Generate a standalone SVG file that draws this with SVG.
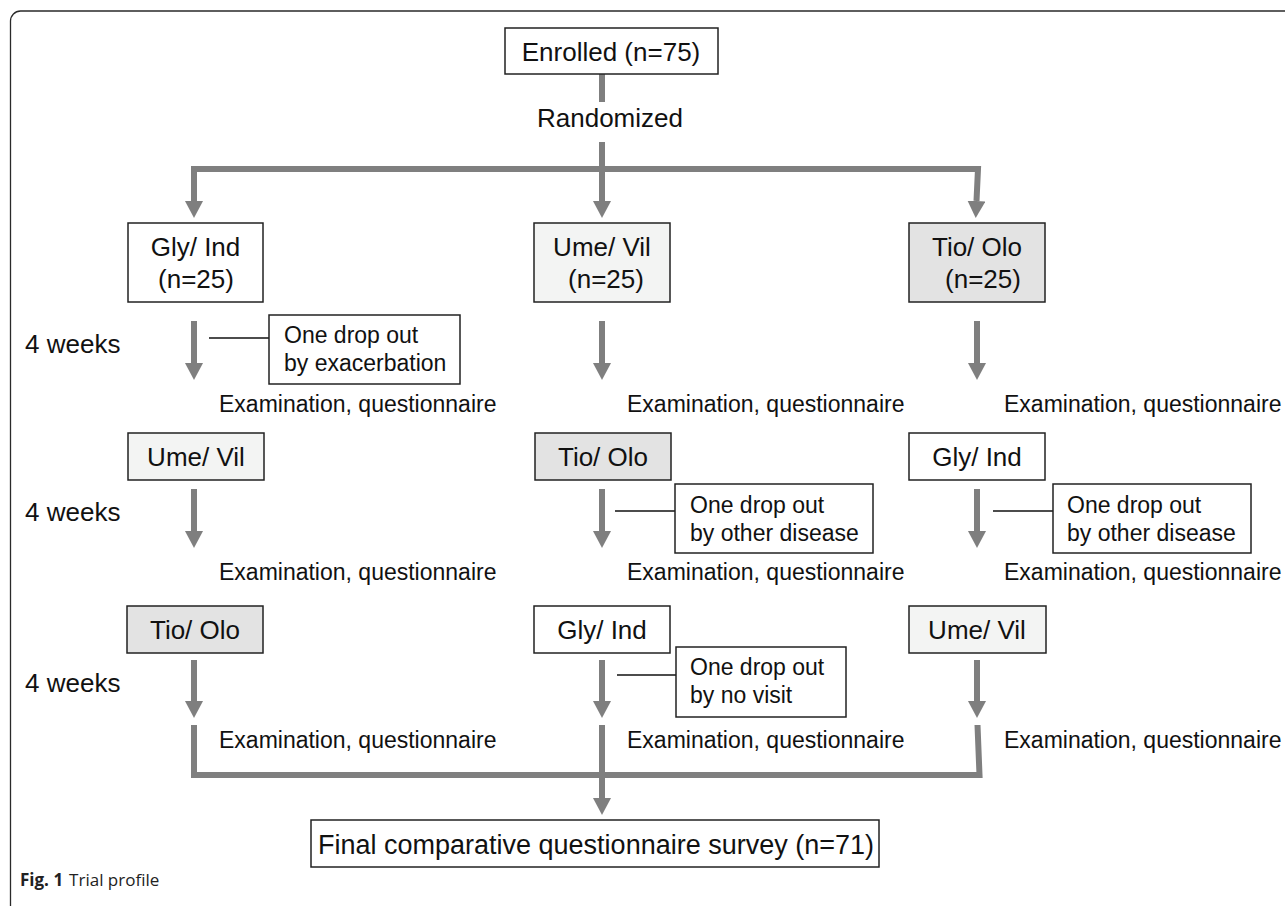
<svg xmlns="http://www.w3.org/2000/svg" width="1285" height="906" viewBox="0 0 1285 906">
  <defs>
    <marker id="ah" viewBox="0 0 17 18" refX="0" refY="9" markerUnits="userSpaceOnUse" markerWidth="17" markerHeight="18" orient="auto">
      <path d="M0,0 L17,9 L0,18 Z" fill="#7f7f7f"/>
    </marker>
    <style>
      .frame { fill: none; stroke: #2a2a2a; stroke-width: 1.3; }
      .box { stroke: #222; stroke-width: 1.5; }
      .w { fill: #ffffff; }
      .lt { fill: #f3f4f3; }
      .gr { fill: #e3e3e3; }
      .flow { fill: none; stroke: #7f7f7f; stroke-width: 6; stroke-linejoin: miter; }
      .thin { fill: none; stroke: #111; stroke-width: 1.5; }
      .t { font-family: "Liberation Sans", Arial, sans-serif; font-size: 26px; fill: #111; }
      .m { text-anchor: middle; }
      .s { font-family: "Liberation Sans", Arial, sans-serif; font-size: 23px; fill: #111; }
      .cap { font-family: "Open Sans", "Noto Sans", sans-serif; font-size: 17px; fill: #222; }
    </style>
  </defs>
  <rect width="1285" height="906" fill="#ffffff"/>
  <rect class="frame" x="10.5" y="11" width="1300" height="920" rx="10" ry="10"/>

  <g id="connectors">
    <path class="flow" d="M602,74 V102"/>
    <path class="flow" d="M602,142 V201" marker-end="url(#ah)"/>
    <path class="flow" d="M602,169 H194 V201" marker-end="url(#ah)"/>
    <path class="flow" d="M602,169 H978 L976.5,201" marker-end="url(#ah)"/>
    <path class="flow" d="M194,321 V363" marker-end="url(#ah)"/>
    <path class="flow" d="M602,321 V363" marker-end="url(#ah)"/>
    <path class="flow" d="M977,321 V363" marker-end="url(#ah)"/>
    <path class="flow" d="M194,489 V531" marker-end="url(#ah)"/>
    <path class="flow" d="M602,489 V531" marker-end="url(#ah)"/>
    <path class="flow" d="M977,489 V531" marker-end="url(#ah)"/>
    <path class="flow" d="M194,660 V701" marker-end="url(#ah)"/>
    <path class="flow" d="M602,660 V701" marker-end="url(#ah)"/>
    <path class="flow" d="M977,660 V701" marker-end="url(#ah)"/>
    <path class="flow" d="M194,725 V775 H979.5 L977.5,725"/>
    <path class="flow" d="M602,725 V798" marker-end="url(#ah)"/>
    <path class="thin" d="M209,338 H269"/>
    <path class="thin" d="M615,511 H675"/>
    <path class="thin" d="M993,511 H1053"/>
    <path class="thin" d="M617,675 H676"/>
  </g>

  <g id="enrolled">
    <rect class="box w" x="505" y="28" width="213" height="46"/>
    <text class="t m" x="611" y="61">Enrolled (n=75)</text>
  </g>
  <g id="randomized">
    <text class="t m" x="610" y="127">Randomized</text>
  </g>

  <g id="weeks-labels">
    <text class="t" x="25" y="353">4 weeks</text>
    <text class="t" x="25" y="521">4 weeks</text>
    <text class="t" x="25" y="692">4 weeks</text>
  </g>

  <g id="r1-gly">
    <rect class="box w" x="128" y="223" width="135" height="79"/>
    <text class="t m" x="195.5" y="256">Gly/ Ind</text>
    <text class="t m" x="196" y="288">(n=25)</text>
  </g>
  <g id="r1-ume">
    <rect class="box lt" x="534" y="223" width="136" height="79"/>
    <text class="t m" x="602" y="256">Ume/ Vil</text>
    <text class="t m" x="606" y="288">(n=25)</text>
  </g>
  <g id="r1-tio">
    <rect class="box gr" x="909" y="223" width="136" height="79"/>
    <text class="t m" x="977" y="256">Tio/ Olo</text>
    <text class="t m" x="983" y="288">(n=25)</text>
  </g>

  <g id="drop1">
    <rect class="box w" x="269" y="315" width="191" height="69"/>
    <text class="s" x="284" y="343">One drop out</text>
    <text class="s" x="284" y="371">by exacerbation</text>
  </g>

  <g id="exam-r1">
    <text class="s" x="219" y="412">Examination, questionnaire</text>
    <text class="s" x="627" y="412">Examination, questionnaire</text>
    <text class="s" x="1004" y="412">Examination, questionnaire</text>
  </g>

  <g id="r2-ume">
    <rect class="box lt" x="128" y="433" width="136" height="47"/>
    <text class="t m" x="196" y="466">Ume/ Vil</text>
  </g>
  <g id="r2-tio">
    <rect class="box gr" x="535" y="433" width="136" height="47"/>
    <text class="t m" x="603" y="466">Tio/ Olo</text>
  </g>
  <g id="r2-gly">
    <rect class="box w" x="909" y="433" width="136" height="47"/>
    <text class="t m" x="977" y="466">Gly/ Ind</text>
  </g>

  <g id="drop2">
    <rect class="box w" x="675" y="484" width="198" height="69"/>
    <text class="s" x="690" y="513">One drop out</text>
    <text class="s" x="690" y="541">by other disease</text>
  </g>
  <g id="drop3">
    <rect class="box w" x="1053" y="484" width="198" height="69"/>
    <text class="s" x="1067" y="513">One drop out</text>
    <text class="s" x="1067" y="541">by other disease</text>
  </g>

  <g id="exam-r2">
    <text class="s" x="219" y="580">Examination, questionnaire</text>
    <text class="s" x="627" y="580">Examination, questionnaire</text>
    <text class="s" x="1004" y="580">Examination, questionnaire</text>
  </g>

  <g id="r3-tio">
    <rect class="box gr" x="127" y="606" width="136" height="47"/>
    <text class="t m" x="195" y="639">Tio/ Olo</text>
  </g>
  <g id="r3-gly">
    <rect class="box w" x="534" y="606" width="136" height="47"/>
    <text class="t m" x="602" y="639">Gly/ Ind</text>
  </g>
  <g id="r3-ume">
    <rect class="box lt" x="909" y="606" width="137" height="47"/>
    <text class="t m" x="977" y="639">Ume/ Vil</text>
  </g>

  <g id="drop4">
    <rect class="box w" x="676" y="647" width="170" height="70"/>
    <text class="s" x="690" y="675">One drop out</text>
    <text class="s" x="690" y="703">by no visit</text>
  </g>

  <g id="exam-r3">
    <text class="s" x="219" y="748">Examination, questionnaire</text>
    <text class="s" x="627" y="748">Examination, questionnaire</text>
    <text class="s" x="1004" y="748">Examination, questionnaire</text>
  </g>

  <g id="final">
    <rect class="box w" x="311" y="820" width="568" height="47"/>
    <text class="t m" x="596" y="854" style="font-size:27px">Final comparative questionnaire survey (n=71)</text>
  </g>

  <g id="caption">
    <text class="cap" x="20" y="886"><tspan font-weight="bold">Fig. 1</tspan><tspan dx="6">Trial profile</tspan></text>
  </g>
</svg>
